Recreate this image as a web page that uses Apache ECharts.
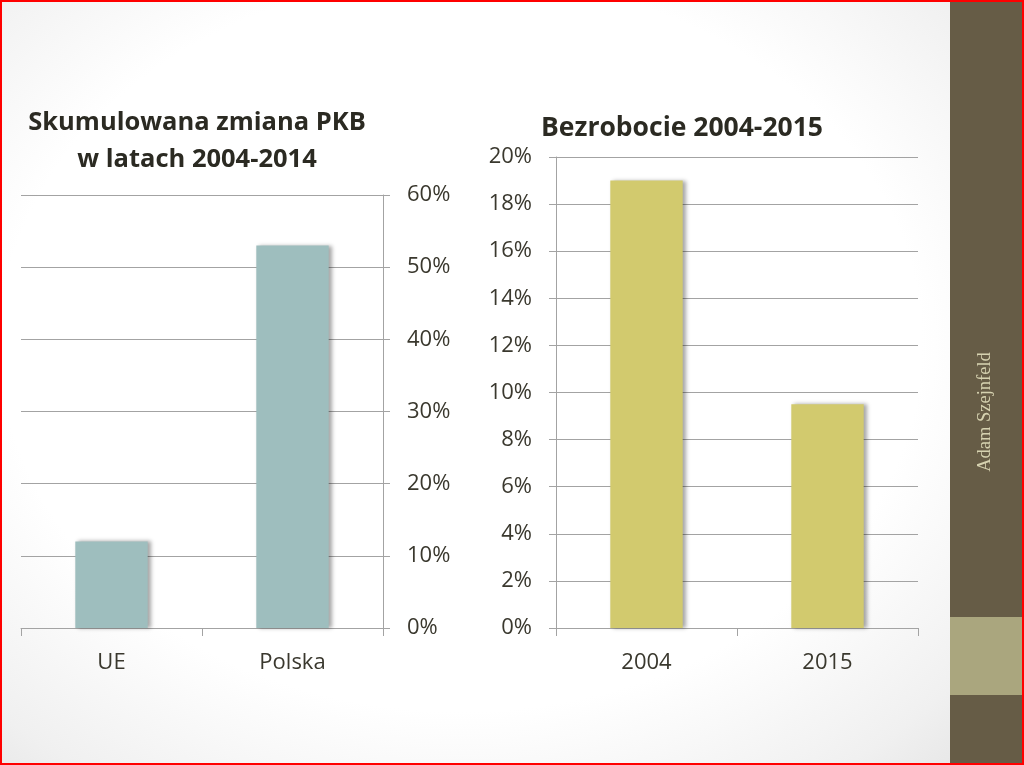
<!DOCTYPE html>
<html>
<head>
<meta charset="utf-8">
<script src="https://cdn.jsdelivr.net/npm/echarts@6/dist/echarts.min.js"></script>
<style>
html,body{margin:0;padding:0;}
body{width:1024px;height:765px;overflow:hidden;
background: radial-gradient(ellipse 75% 80% at 45% 45%, #ffffff 60%, #f0f0f0 85%, #e2e2e2 100%);}
#c{width:1024px;height:765px;}
</style>
</head>
<body>
<div id="c"></div>
<script>
// Data
const pkbCategories = ['UE', 'Polska'];
const pkbValues = [12, 53];
const bezCategories = ['2004', '2015'];
const bezValues = [19, 9.5];
const pkbTitle = ['Skumulowana zmiana PKB', 'w latach 2004-2014'];
const bezTitle = 'Bezrobocie 2004-2015';
const author = 'Adam Szejnfeld';

const FONT = 'Open Sans';
const textCol = '#3a382e';
const axisCol = '#a3a3a3';

const chart = echarts.init(document.getElementById('c'));

function xAx(idx, cats) {
  return {
    type: 'category', gridIndex: idx, data: cats,
    axisLine: {show: true, lineStyle: {color: axisCol, width: 1}},
    axisTick: {show: true, length: 8, lineStyle: {color: axisCol}},
    axisLabel: {color: textCol, fontFamily: FONT, fontSize: 22, margin: 24}
  };
}
function yAx(idx, max, interval, pos) {
  return {
    type: 'value', gridIndex: idx, min: 0, max: max, interval: interval, position: pos,
    axisLine: {show: true, lineStyle: {color: axisCol, width: 1}},
    axisTick: {show: true, length: 7, lineStyle: {color: axisCol}},
    splitLine: {show: true, lineStyle: {color: axisCol, width: 1}},
    axisLabel: {color: textCol, fontFamily: FONT, fontSize: 22, margin: 24, formatter: '{value}%'}
  };
}

chart.setOption({
  animation: false,
  grid: [
    {left: 21, right: 1024 - 383, top: 195, bottom: 765 - 628},
    {left: 556, right: 1024 - 918, top: 157, bottom: 765 - 628}
  ],
  xAxis: [xAx(0, pkbCategories), xAx(1, bezCategories)],
  yAxis: [yAx(0, 60, 10, 'right'), yAx(1, 20, 2, 'left')],
  series: [
    {type: 'bar', xAxisIndex: 0, yAxisIndex: 0, data: pkbValues, barWidth: '40%',
     itemStyle: {color: '#9ebebe', shadowColor: 'rgba(0,0,0,0.35)', shadowBlur: 4, shadowOffsetX: 3, shadowOffsetY: 0}},
    {type: 'bar', xAxisIndex: 1, yAxisIndex: 1, data: bezValues, barWidth: '40%',
     itemStyle: {color: '#d2ca6e', shadowColor: 'rgba(0,0,0,0.35)', shadowBlur: 4, shadowOffsetX: 3, shadowOffsetY: 0}}
  ],
  graphic: [
    {type: 'text', x: 197, y: 123, style: {text: pkbTitle[0], fontFamily: FONT, fontWeight: 'bold', fontSize: 25.5, fill: '#2b2a22', align: 'center', verticalAlign: 'middle'}},
    {type: 'text', x: 197, y: 160, style: {text: pkbTitle[1], fontFamily: FONT, fontWeight: 'bold', fontSize: 25.5, fill: '#2b2a22', align: 'center', verticalAlign: 'middle'}},
    {type: 'text', x: 541, y: 128, style: {text: bezTitle, fontFamily: FONT, fontWeight: 'bold', fontSize: 26.5, fill: '#2b2a22', align: 'left', verticalAlign: 'middle'}},
    {type: 'rect', shape: {x: 950, y: 0, width: 74, height: 765}, style: {fill: '#665c46'}},
    {type: 'rect', shape: {x: 950, y: 617, width: 74, height: 78}, style: {fill: '#aaa67e'}},
    {type: 'text', x: 985, y: 412, rotation: Math.PI / 2,
     style: {text: author, fontFamily: 'Liberation Serif', fontSize: 18.5, fill: '#d6d2b0', align: 'center', verticalAlign: 'middle'}},
    {type: 'rect', shape: {x: 1, y: 1, width: 1022, height: 763}, style: {fill: 'none', stroke: '#ff0000', lineWidth: 2}}
  ]
});
</script>
</body>
</html>
